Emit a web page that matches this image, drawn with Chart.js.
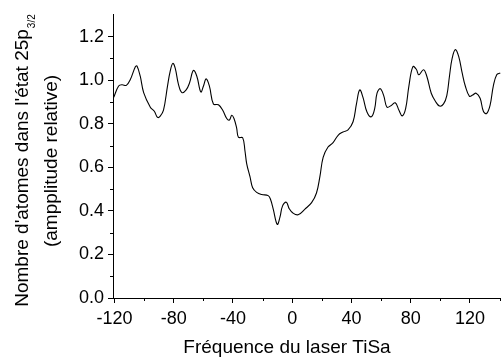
<!DOCTYPE html>
<html>
<head>
<meta charset="utf-8">
<script src="https://cdn.jsdelivr.net/npm/chart.js@4/dist/chart.umd.min.js"></script>
<style>
html, body { margin: 0; padding: 0; background: #fff; }
#wrap { width: 501px; height: 358px; }
</style>
</head>
<body>
<div id="wrap"><canvas id="c" width="501" height="358"></canvas></div>
<script>
// frequency (x) and relative amplitude (y)
const freq = [
  -120.5, -117.2, -114.9, -112, -109.3, -105.9, -104.8, -102.6, -100.3, -95.8,
  -93.1, -90.9, -89.1, -86.9, -84.2, -82.4, -80.6, -79, -76.8, -74.5,
  -71.6, -69.3, -66.7, -64.4, -61.7, -59.9, -58.1, -55.9, -53.2, -49.8,
  -46.9, -44.2, -42.4, -40.8, -39.3, -37.5, -36.3, -33.4, -31.9, -30.7,
  -28.5, -26.7, -24, -20.6, -16.2, -14.6, -12.8, -10.1, -8.3, -6.5,
  -4.0, -2, 0.5, 4, 8.6, 13.1, 16.4, 18.7, 20.9, 24.2,
  27.6, 31, 34.3, 37.7, 41.1, 43.4, 45.6, 47.8, 50.5, 53.5,
  55.7, 57.3, 59.5, 61.8, 64, 66.9, 69.6, 72.1, 74.3, 76.6,
  78.8, 81.5, 83.8, 85.5, 88.7, 90.9, 93.9, 96.8, 99.5, 102.2,
  104.4, 106.2, 108, 110.2, 112.5, 114.7, 116.9, 119.7, 121.9, 124.2,
  126.9, 129.1, 131.3, 133.6, 135.8, 138.1, 140.5
];
const amplitude = [
  0.921, 0.973, 0.979, 0.976, 1.003, 1.062, 1.065, 1.018, 0.943, 0.876,
  0.857, 0.829, 0.835, 0.862, 0.973, 1.04, 1.077, 1.055, 0.981, 0.943,
  0.955, 0.988, 1.045, 1.018, 0.946, 0.973, 1.006, 0.973, 0.891, 0.887,
  0.862, 0.824, 0.817, 0.839, 0.824, 0.78, 0.738, 0.735, 0.676, 0.616,
  0.557, 0.506, 0.485, 0.475, 0.47, 0.452, 0.408, 0.338, 0.37, 0.423,
  0.44, 0.41, 0.39, 0.382, 0.408, 0.4375, 0.482, 0.557, 0.646, 0.693,
  0.713, 0.747, 0.762, 0.772, 0.809, 0.891, 0.955, 0.921, 0.854, 0.832,
  0.869, 0.94, 0.961, 0.929, 0.876, 0.884, 0.896, 0.862, 0.836, 0.869,
  0.973, 1.062, 1.05, 1.025, 1.048, 1.018, 0.94, 0.902, 0.881, 0.891,
  0.929, 1.018, 1.1, 1.14, 1.107, 1.036, 0.973, 0.926, 0.932, 0.94,
  0.917, 0.857, 0.847, 0.884, 0.973, 1.025, 1.033
];

const xTicks = [-120, -80, -40, 0, 40, 80, 120];
const xMinor = [-100, -60, -20, 20, 60, 100, 140];
const yTicks = [0, 0.2, 0.4, 0.6, 0.8, 1.0, 1.2];
const yMinor = [0.1, 0.3, 0.5, 0.7, 0.9, 1.1];

const xTitle = "Fréquence du laser TiSa";
const yTitle1 = "Nombre d'atomes dans l'état 25p";
const yTitle1Sub = "3/2";
const yTitle2 = "(ampplitude relative)";

const FONT = "'Liberation Sans', Arial, sans-serif";

/* minor ticks + axis titles */
const extras = {
  id: "extras",
  afterDraw(chart) {
    const ctx = chart.ctx;
    const xs = chart.scales.x, ys = chart.scales.y;
    const a = chart.chartArea;
    ctx.save();
    ctx.strokeStyle = "#000";
    ctx.lineWidth = 1;
    ctx.beginPath();
    xMinor.forEach(v => {
      const px = Math.round(xs.getPixelForValue(v)) + 0.5;
      ctx.moveTo(px, a.bottom);
      ctx.lineTo(px, a.bottom + 3);
    });
    yMinor.forEach(v => {
      const py = Math.round(ys.getPixelForValue(v)) + 0.5;
      ctx.moveTo(a.left, py);
      ctx.lineTo(a.left - 3, py);
    });
    ctx.stroke();

    ctx.fillStyle = "#000";
    // x title
    ctx.font = "19px " + FONT;
    ctx.textAlign = "center";
    ctx.textBaseline = "alphabetic";
    ctx.fillText(xTitle, 287, 353);

    // y title, two rotated lines
    ctx.translate(0, 161);
    ctx.rotate(-Math.PI / 2);
    ctx.textAlign = "left";
    ctx.font = "19px " + FONT;
    const w1 = ctx.measureText(yTitle1).width;
    ctx.font = "10px " + FONT;
    const ws = ctx.measureText(yTitle1Sub).width;
    const start = -(w1 + ws) / 2;
    ctx.font = "19px " + FONT;
    ctx.fillText(yTitle1, start, 28);
    ctx.font = "10px " + FONT;
    ctx.fillText(yTitle1Sub, start + w1 + 1, 35);
    ctx.font = "19px " + FONT;
    ctx.textAlign = "center";
    ctx.fillText(yTitle2, 0, 57);
    ctx.restore();
  }
};

new Chart(document.getElementById("c"), {
  type: "line",
  data: {
    datasets: [{
      data: freq.map((f, i) => ({ x: f, y: amplitude[i] })),
      borderColor: "#000",
      borderWidth: 1.1,
      pointRadius: 0,
      tension: 0.4,
      fill: false
    }]
  },
  options: {
    responsive: false,
    animation: false,
    layout: { padding: { top: 7, right: 0, left: 0, bottom: 0 } },
    plugins: { legend: { display: false }, tooltip: { enabled: false } },
    scales: {
      x: {
        type: "linear",
        min: -121,
        max: 141,
        afterBuildTicks: s => { s.ticks = xTicks.map(v => ({ value: v })); },
        afterFit: s => { s.height = 60; },
        grid: { drawOnChartArea: false, drawTicks: true, tickLength: 5, color: "#000" },
        border: { color: "#000", width: 1 },
        ticks: {
          color: "#000",
          font: { family: FONT, size: 18 },
          padding: 5,
          maxRotation: 0,
          autoSkip: false,
          callback: v => String(v)
        }
      },
      y: {
        min: 0,
        max: 1.3,
        afterBuildTicks: s => { s.ticks = yTicks.map(v => ({ value: v })); },
        afterFit: s => { s.width = 113; },
        grid: { drawOnChartArea: false, drawTicks: true, tickLength: 5, color: "#000" },
        border: { color: "#000", width: 1 },
        ticks: {
          color: "#000",
          font: { family: FONT, size: 18 },
          padding: 4,
          autoSkip: false,
          callback: v => Number(v).toFixed(1)
        }
      }
    }
  },
  plugins: [extras]
});
</script>
</body>
</html>
